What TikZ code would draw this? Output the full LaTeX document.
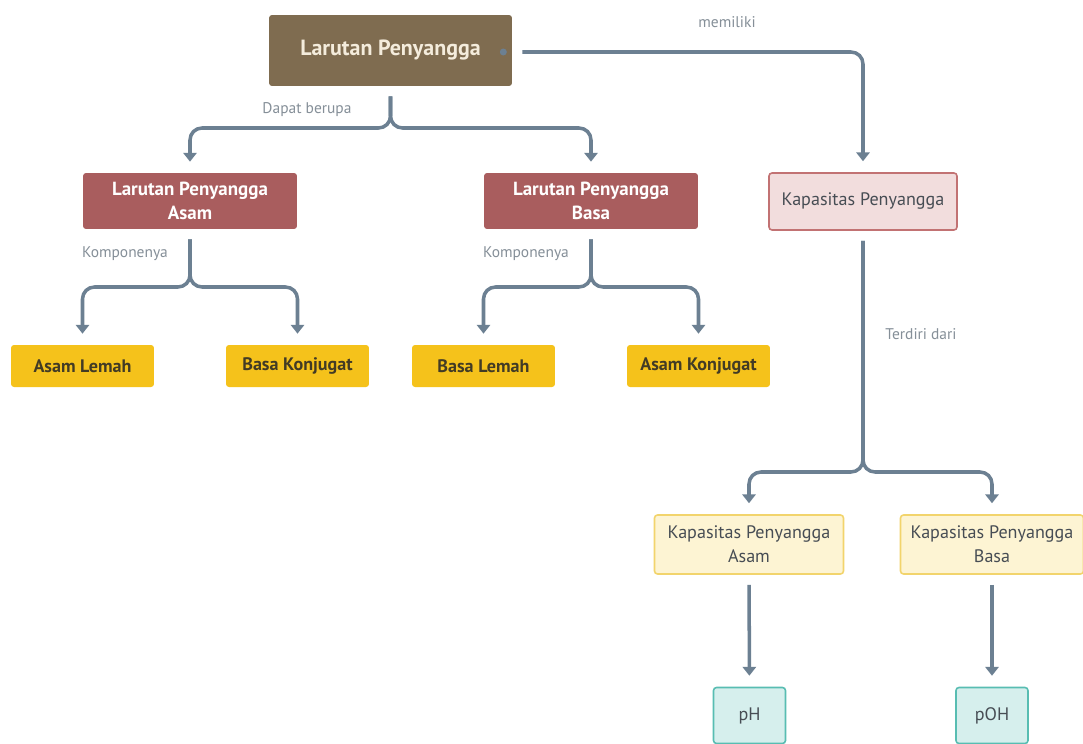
\documentclass[tikz,border=0pt]{standalone}
\usepackage{fontspec}
\setmainfont{PT Sans}
\usetikzlibrary{arrows.meta,positioning}

\definecolor{rootbrown}{HTML}{7F6C50}
\definecolor{rootText}{HTML}{F4ECDC}
\definecolor{bufred}{HTML}{A95D5E}
\definecolor{capfill}{HTML}{F2DDDD}
\definecolor{capline}{HTML}{C27273}
\definecolor{compyellow}{HTML}{F5C21B}
\definecolor{compText}{HTML}{423B25}
\definecolor{subfill}{HTML}{FDF4D3}
\definecolor{subline}{HTML}{F2D46C}
\definecolor{phfill}{HTML}{D6EFED}
\definecolor{phline}{HTML}{58BDB2}
\definecolor{connline}{HTML}{6C8092}
\definecolor{lblgray}{HTML}{858F98}
\definecolor{darkText}{HTML}{474D54}

\tikzset{
  box/.style={rectangle, rounded corners=0.6mm, inner sep=0pt, align=center,
    font=\fontsize{10.3}{13.5}\selectfont},
  rootbox/.style={box, fill=rootbrown, text=rootText, minimum width=4.86cm,
    minimum height=1.42cm, font=\fontsize{12.5}{15}\selectfont\bfseries},
  kindbox/.style={box, fill=bufred, text=white, minimum width=4.28cm,
    minimum height=1.12cm, font=\fontsize{10.8}{13.6}\selectfont\bfseries},
  capbox/.style={box, fill=capfill, draw=capline, line width=0.9pt,
    text=darkText, minimum width=3.76cm, minimum height=1.14cm},
  partbox/.style={box, fill=compyellow, text=compText, minimum width=2.86cm,
    minimum height=0.84cm, font=\fontsize{10.3}{13.5}\selectfont\bfseries},
  subbox/.style={box, fill=subfill, draw=subline, line width=0.9pt,
    text=darkText, minimum height=1.18cm},
  phbox/.style={box, fill=phfill, draw=phline, line width=0.9pt,
    text=darkText, minimum width=1.44cm, minimum height=1.12cm},
  lbl/.style={inner sep=0pt, text=lblgray, font=\fontsize{8.8}{10}\selectfont},
  conn/.style={draw=connline, line width=2pt, rounded corners=2.4mm,
    shorten <=2mm, shorten >=2.2mm, -{Triangle[width=7.5pt,length=5pt]}}
}

\begin{document}
\begin{tikzpicture}[x=0.02cm,y=-0.02cm]
  \fill[white] (0,0) rectangle (1083,744);
  \useasboundingbox (0,0) rectangle (1083,744);

  % main concept
  \node[rootbox] (root) at (390.5,50.5) {Larutan Penyangga};
  \node[kindbox] (acidbuf) at (190,201) {Larutan Penyangga\\Asam};
  \node[kindbox] (basebuf) at (591,201) {Larutan Penyangga\\Basa};
  \node[capbox] (cap) at (863,201.5) {Kapasitas Penyangga};

  % components
  \node[partbox] (weakacid) at (82.5,366) {Asam Lemah};
  \node[partbox] (conjbase) at (297.5,366) {Basa Konjugat};
  \node[partbox] (weakbase) at (483.5,366) {Basa Lemah};
  \node[partbox] (conjacid) at (698.5,366) {Asam Konjugat};

  % capacities
  \node[subbox, minimum width=3.78cm] (capacid) at (749,544.5) {Kapasitas Penyangga\\Asam};
  \node[subbox, minimum width=3.66cm] (capbase) at (992,544.5) {Kapasitas Penyangga\\Basa};
  \node[phbox] (ph) at (749.5,715.5) {pH};
  \node[phbox] (poh) at (992,715.5) {pOH};

  % split points
  \coordinate (split0) at (390.5,128);
  \coordinate (split1) at (190,287);
  \coordinate (split2) at (591,287);
  \coordinate (split3) at (863,472);
  \coordinate (rootdot) at ([xshift=-1.8mm,yshift=-0.3mm]root.east);

  % connectors
  \draw[conn] (root) -- (split0) -| (acidbuf);
  \draw[conn] (root) -- (split0) -| (basebuf);
  \fill[connline] (rootdot) circle (0.7mm);
  \draw[conn, shorten <=3.8mm] (rootdot) -| (cap);
  \draw[conn] (acidbuf) -- (split1) -| (weakacid);
  \draw[conn] (acidbuf) -- (split1) -| (conjbase);
  \draw[conn] (basebuf) -- (split2) -| (weakbase);
  \draw[conn] (basebuf) -- (split2) -| (conjacid);
  \draw[conn] (cap) -- (split3) -| (capacid);
  \draw[conn] (cap) -- (split3) -| (capbase);
  \draw[conn] (capacid) -- (ph);
  \draw[conn] (capbase) -- (poh);

  % connector labels
  \node[lbl] (dapat) at (307,110) {Dapat berupa};
  \node[lbl] (memiliki) at (727,22) {memiliki};
  \node[lbl] (komp1) at (125,254) {Komponenya};
  \node[lbl] (komp2) at (526,254) {Komponenya};
  \node[lbl] (terdiri) at (921,334) {Terdiri dari};
\end{tikzpicture}
\end{document}
